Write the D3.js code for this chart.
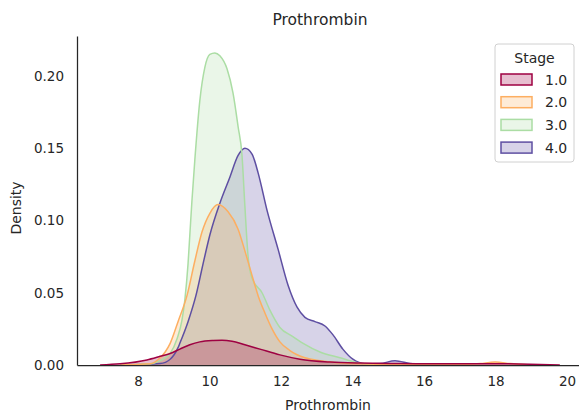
<!DOCTYPE html>
<html>
<head>
<meta charset="utf-8">
<script src="https://cdn.jsdelivr.net/npm/d3@7/dist/d3.min.js"></script>
<style>
  html, body { margin: 0; padding: 0; background: #fff; }
  svg { display: block; }
  text { font-family: "DejaVu Sans", sans-serif; fill: #262626; }
</style>
</head>
<body>
<svg id="chart" width="579" height="414"></svg>
<script>
// ---- data ----
const stages = ["1.0", "2.0", "3.0", "4.0"];
const colors = ["#9e0142", "#fdae61", "#abdda4", "#5e4fa2"];
const xTicks = [8, 10, 12, 14, 16, 18, 20];
const yTicks = [0.00, 0.05, 0.10, 0.15, 0.20];

// density curves: [Prothrombin, density]
const stage1 = [[6.94,0],[7.50,0.0008],[8.25,0.0035],[8.62,0.006],[8.90,0.008],[9.17,0.011],[9.45,0.014],[9.73,0.016],[10.10,0.017],[10.35,0.0172],[10.63,0.0165],[10.99,0.014],[11.41,0.011],[11.97,0.007],[12.53,0.004],[13.37,0.002],[14.21,0.0013],[15.33,0.001],[16.73,0.0008],[17.99,0.0009],[18.97,0.0006],[19.80,0]];
const stage2 = [[7.50,0],[8.34,0.0008],[8.62,0.005],[8.76,0.009],[8.90,0.015],[9.12,0.03],[9.37,0.048],[9.59,0.072],[9.79,0.092],[10.01,0.105],[10.24,0.111],[10.52,0.106],[10.80,0.094],[10.99,0.079],[11.19,0.062],[11.36,0.048],[11.55,0.036],[11.75,0.025],[11.97,0.016],[12.25,0.010],[12.67,0.005],[13.09,0.003],[13.93,0.001],[15.33,0.0003],[17.00,0.0003],[17.57,0.001],[17.99,0.002],[18.41,0.001],[18.97,0]];
const stage3 = [[7.50,0],[8.34,0.0008],[8.62,0.003],[8.90,0.008],[9.09,0.018],[9.23,0.031],[9.31,0.045],[9.40,0.07],[9.45,0.09],[9.51,0.114],[9.59,0.142],[9.73,0.183],[9.87,0.206],[10.01,0.215],[10.15,0.216],[10.29,0.214],[10.49,0.205],[10.66,0.188],[10.80,0.165],[10.91,0.145],[10.99,0.11],[11.08,0.075],[11.19,0.06],[11.47,0.05],[11.69,0.038],[11.97,0.026],[12.31,0.02],[12.62,0.015],[13.09,0.009],[13.65,0.005],[14.07,0.002],[14.77,0]];
const stage4 = [[7.50,0],[8.62,0.001],[8.90,0.004],[9.12,0.012],[9.17,0.015],[9.40,0.03],[9.62,0.048],[9.82,0.07],[10.01,0.09],[10.29,0.112],[10.57,0.13],[10.80,0.145],[10.99,0.150],[11.19,0.146],[11.36,0.133],[11.61,0.107],[11.92,0.08],[12.20,0.055],[12.45,0.04],[12.67,0.033],[12.95,0.030],[13.23,0.027],[13.45,0.021],[13.73,0.011],[14.01,0.004],[14.35,0.0008],[14.77,0.001],[15.19,0.003],[15.61,0.001],[16.03,0]];
const series = [stage1, stage2, stage3, stage4];

// ---- layout ----
const svg = d3.select("#chart");
const x = d3.scaleLinear().domain([6.294, 20.336]).range([77, 579]);
const y = d3.scaleLinear().domain([0, 0.2277]).range([365, 36]);

const area = d3.area().x(d => x(d[0])).y0(y(0)).y1(d => y(d[1])).curve(d3.curveMonotoneX);
const line = d3.line().x(d => x(d[0])).y(d => y(d[1])).curve(d3.curveMonotoneX);

// draw last level first so stage 1 ends on top
const order = [3, 2, 1, 0];
const g = svg.append("g");
order.forEach(i => {
  g.append("path").attr("d", area(series[i]))
    .attr("fill", colors[i]).attr("fill-opacity", 0.25).attr("stroke", "none");
});
order.forEach(i => {
  g.append("path").attr("d", line(series[i]))
    .attr("fill", "none").attr("stroke", colors[i]).attr("stroke-width", 1.5);
});

// axes (no tick marks, seaborn white style)
const xAxis = svg.append("g").attr("transform", `translate(0,${y(0)})`)
  .call(d3.axisBottom(x).tickValues(xTicks).tickSize(0).tickPadding(11).tickFormat(d3.format("d")));
xAxis.select(".domain").attr("stroke", "#262626").attr("stroke-width", 1.25);
xAxis.selectAll("text").style("font-size", "13.5px").attr("fill", "#262626");

const yAxis = svg.append("g").attr("transform", `translate(${x.range()[0]},0)`)
  .call(d3.axisLeft(y).tickValues(yTicks).tickSize(0).tickPadding(13).tickFormat(d3.format(".2f")));
yAxis.select(".domain").attr("stroke", "#262626").attr("stroke-width", 1.25);
yAxis.selectAll("text").style("font-size", "13.5px").attr("fill", "#262626");

// titles
svg.append("text").attr("x", 320).attr("y", 25).attr("text-anchor", "middle")
  .style("font-size", "15.5px").text("Prothrombin");
svg.append("text").attr("x", 328).attr("y", 410).attr("text-anchor", "middle")
  .style("font-size", "14px").text("Prothrombin");
svg.append("text").attr("transform", "translate(21,208) rotate(-90)").attr("text-anchor", "middle")
  .style("font-size", "14px").text("Density");

// legend
const leg = svg.append("g");
leg.append("rect").attr("x", 495).attr("y", 44).attr("width", 79).attr("height", 118)
  .attr("rx", 3).attr("fill", "#fff").attr("fill-opacity", 0.8).attr("stroke", "#d0d0d0");
leg.append("text").attr("x", 534.5).attr("y", 63).attr("text-anchor", "middle")
  .style("font-size", "14px").text("Stage");
stages.forEach((s, i) => {
  const cy = 79.5 + i * 22.7;
  leg.append("rect").attr("x", 501).attr("y", cy - 5.5).attr("width", 31).attr("height", 11)
    .attr("fill", colors[i]).attr("fill-opacity", 0.25).attr("stroke", colors[i]).attr("stroke-width", 1.5);
  leg.append("text").attr("x", 545).attr("y", cy + 5).style("font-size", "14px").text(s);
});
</script>
</body>
</html>
